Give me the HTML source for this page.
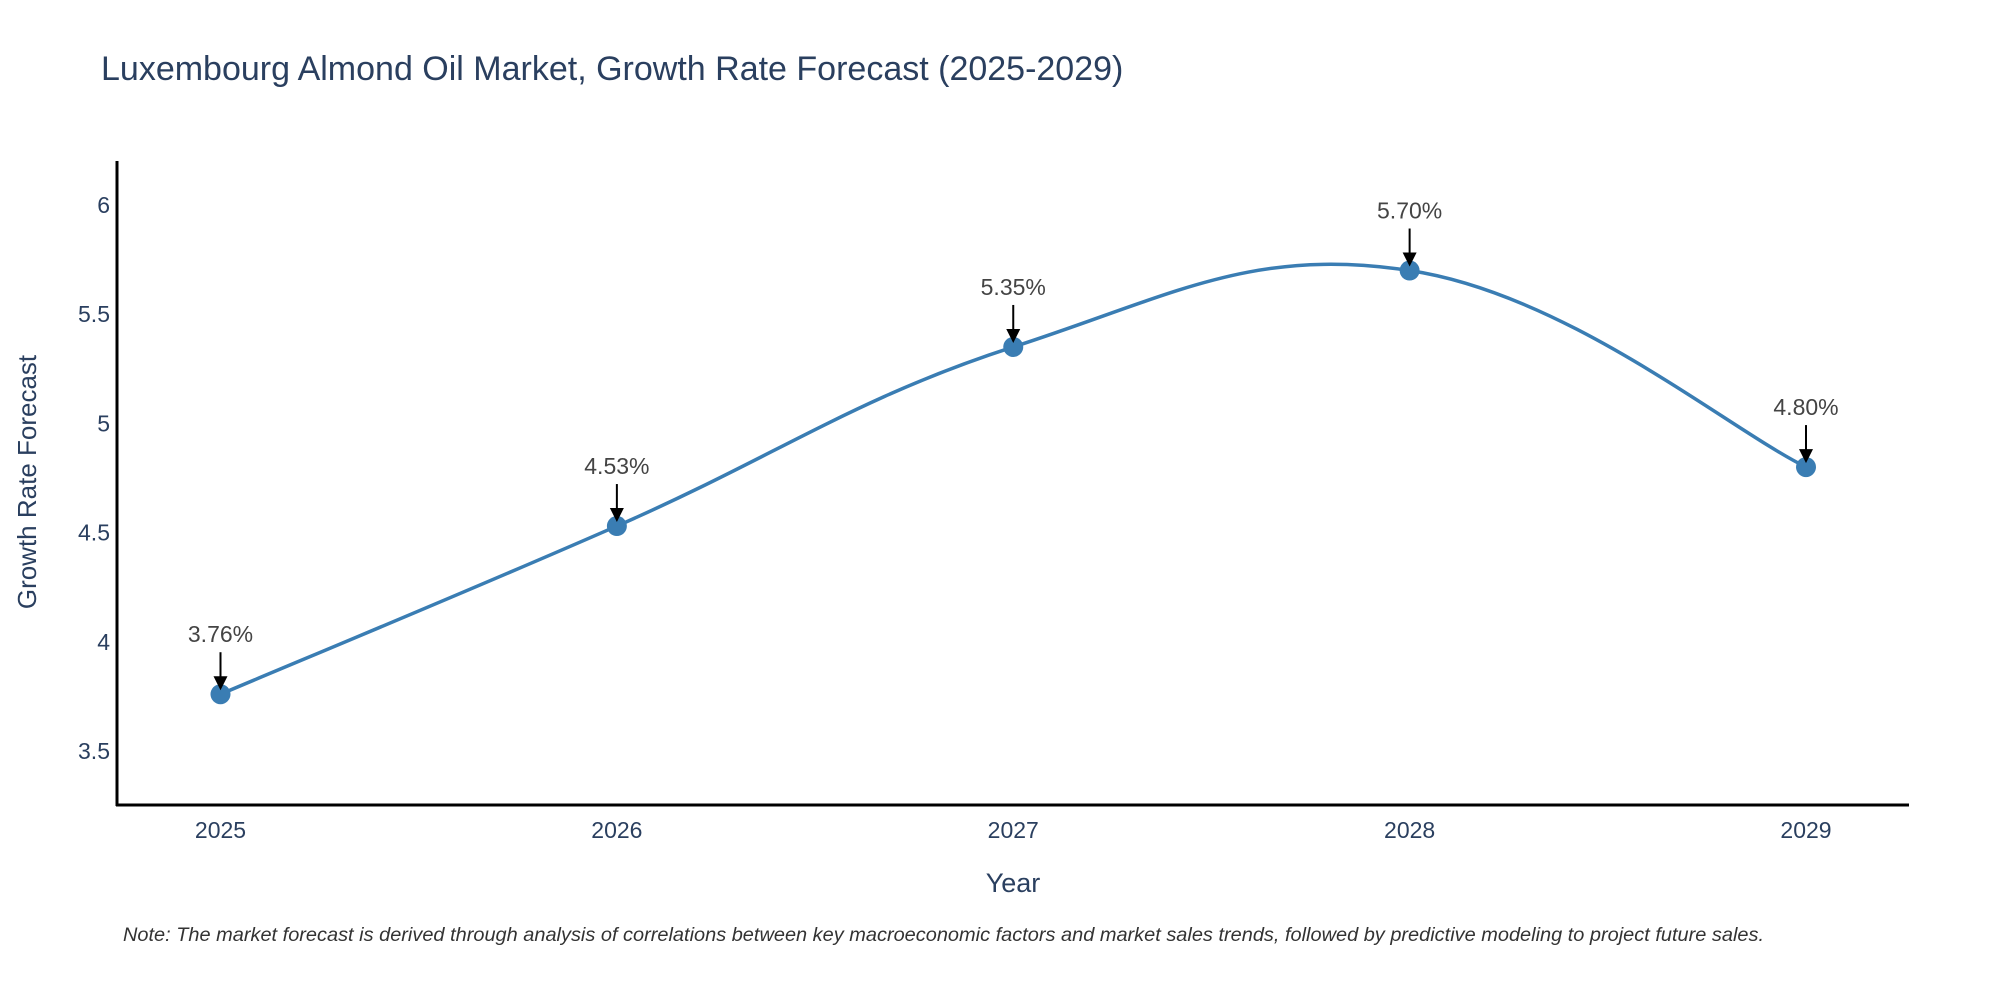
<!DOCTYPE html>
<html><head><meta charset="utf-8"><style>
html,body{margin:0;padding:0;background:#fff;}
svg{display:block;font-family:"Liberation Sans",sans-serif;}
</style></head><body>
<svg id="chart" width="2000" height="1000" viewBox="0 0 2000 1000">
<text x="101" y="80" font-size="34" fill="#2a3f5f">Luxembourg Almond Oil Market, Growth Rate Forecast (2025-2029)</text>
<g id="yticks"></g>
<g id="xticks"></g>
<line x1="117" y1="161" x2="117" y2="806" stroke="#000" stroke-width="3"/>
<line x1="116" y1="805" x2="1909" y2="805" stroke="#000" stroke-width="3"/>
<path id="line" fill="none" stroke="#3a7db3" stroke-width="3.5"/>
<g id="points"></g>
<g id="annos"></g>
<text x="1013" y="892" font-size="27" fill="#2a3f5f" text-anchor="middle">Year</text>
<text transform="translate(36,482) rotate(-90)" font-size="26" fill="#2a3f5f" text-anchor="middle">Growth Rate Forecast</text>
<text x="123" y="941" font-size="19" font-style="italic" fill="#333" textLength="1641" lengthAdjust="spacingAndGlyphs">Note: The market forecast is derived through analysis of correlations between key macroeconomic factors and market sales trends, followed by predictive modeling to project future sales.</text>
</svg>
<script>
const years = [2025, 2026, 2027, 2028, 2029];
const growth = [3.76, 4.53, 5.35, 5.70, 4.80];
const yTickValues = [3.5, 4, 4.5, 5, 5.5, 6];
const yTickLabels = ["3.5", "4", "4.5", "5", "5.5", "6"];

const NS = "http://www.w3.org/2000/svg";
function xs(v){ return 220.5 + (v - 2025) * (1806 - 220.5) / 4; }
function ys(v){ return 751 - (v - 3.5) * (751 - 205) / 2.5; }
function mk(tag, attrs, parent){ const e = document.createElementNS(NS, tag); for (const k in attrs) e.setAttribute(k, attrs[k]); parent.appendChild(e); return e; }

const yt = document.getElementById('yticks');
yTickValues.forEach((v, i) => {
  const t = mk('text', {x: 110, y: ys(v) + 8, 'font-size': 23, fill: '#2a3f5f', 'text-anchor': 'end'}, yt);
  t.textContent = yTickLabels[i];
  
  
});
const xt = document.getElementById('xticks');
years.forEach(y => {
  const t = mk('text', {x: xs(y), y: 838, 'font-size': 23, fill: '#2a3f5f', 'text-anchor': 'middle'}, xt);
  t.textContent = String(y);
  
  
});

const pts = years.map((y, i) => [xs(y), ys(growth[i])]);
let d = `M${pts[0][0]},${pts[0][1]}`;
const tn = 0.2;
for (let i = 0; i < pts.length - 1; i++) {
  const p0 = pts[Math.max(0, i - 1)], p1 = pts[i], p2 = pts[i + 1], p3 = pts[Math.min(pts.length - 1, i + 2)];
  const c1 = [p1[0] + (p2[0] - p0[0]) * tn, p1[1] + (p2[1] - p0[1]) * tn];
  const c2 = [p2[0] - (p3[0] - p1[0]) * tn, p2[1] - (p3[1] - p1[1]) * tn];
  d += ` C${c1[0]},${c1[1]} ${c2[0]},${c2[1]} ${p2[0]},${p2[1]}`;
}
document.getElementById('line').setAttribute('d', d);

const pg = document.getElementById('points');
const ag = document.getElementById('annos');
pts.forEach((p, i) => {
  const c = mk('circle', {cx: p[0], cy: p[1], r: 10, fill: '#3a7db3'}, pg);
  
  
  const l = mk('line', {x1: p[0], y1: p[1] - 42, x2: p[0], y2: p[1] - 14, stroke: '#000', 'stroke-width': 2}, ag);
  
  
  const h = mk('polygon', {points: `${p[0]-7},${p[1]-18} ${p[0]+7},${p[1]-18} ${p[0]},${p[1]-4}`, fill: '#000'}, ag);
  
  
  const t = mk('text', {x: p[0], y: p[1] - 52, 'font-size': 23, fill: '#444', 'text-anchor': 'middle'}, ag);
  t.textContent = growth[i].toFixed(2) + '%';
  
  
});
</script>
</body></html>
